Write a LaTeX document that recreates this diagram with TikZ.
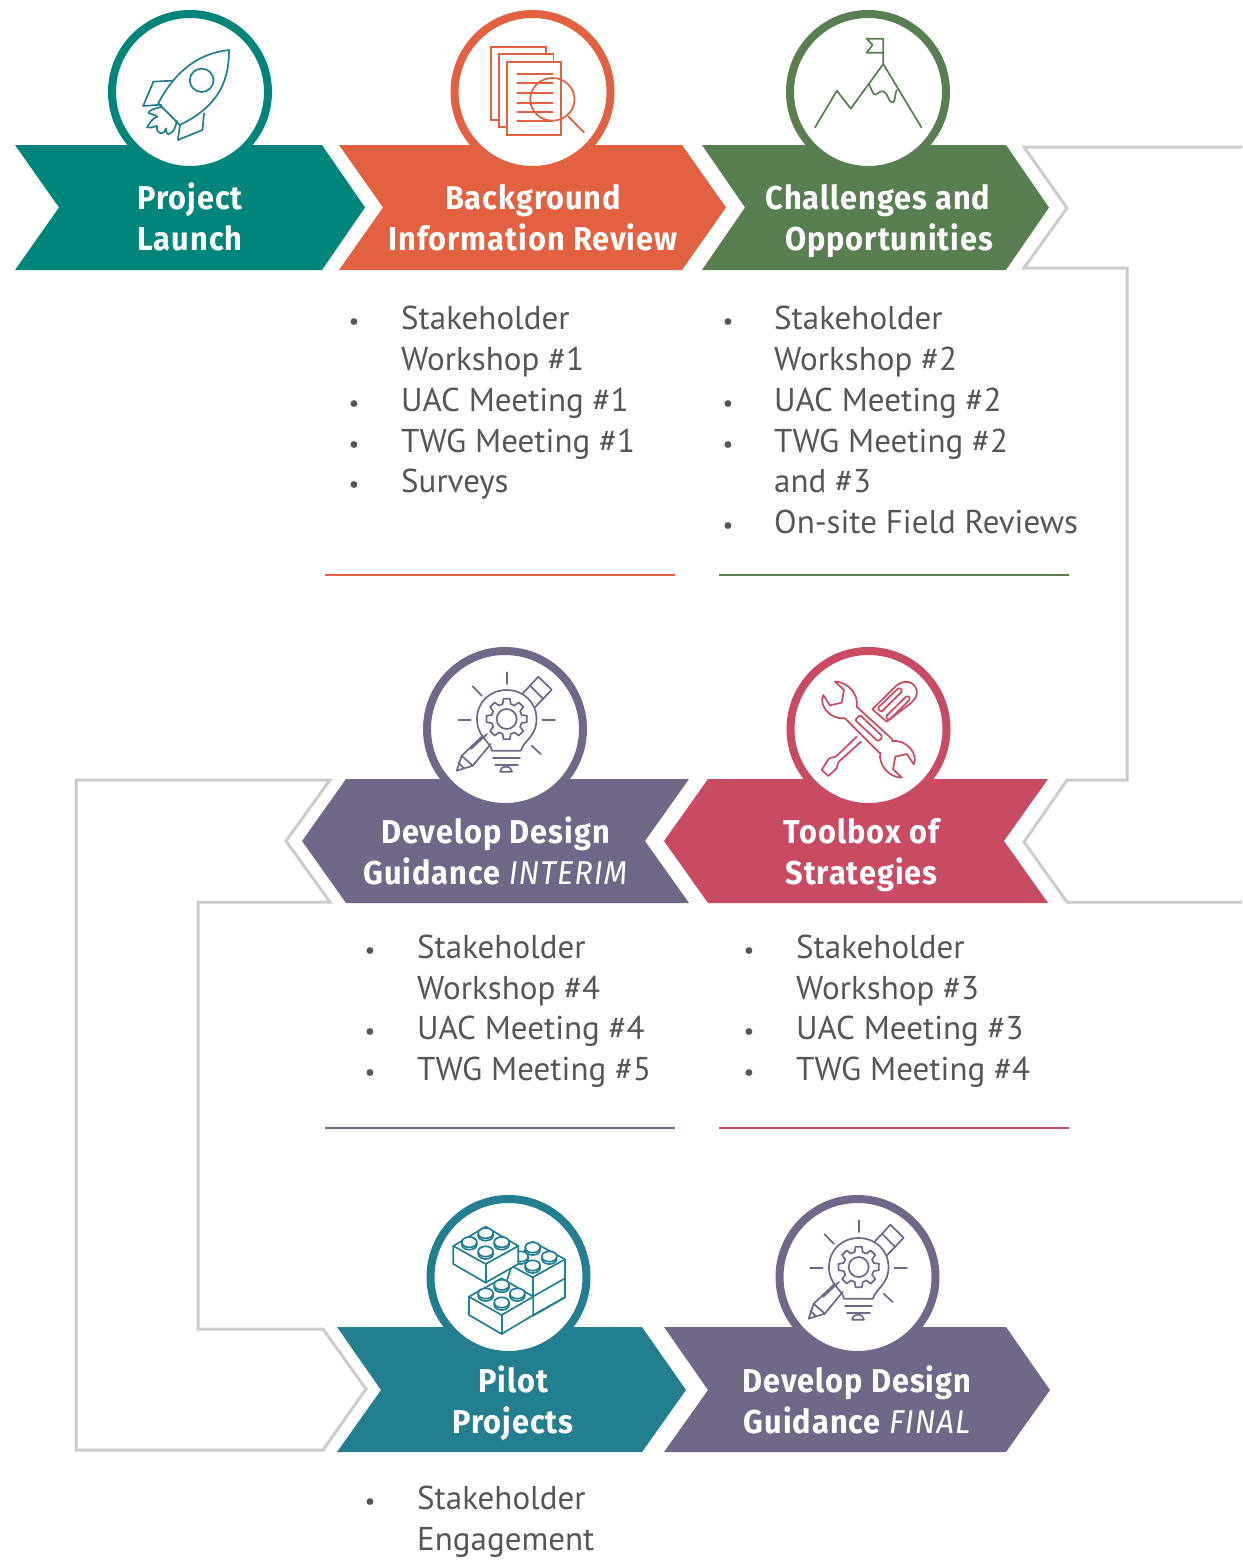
\documentclass[tikz,border=0pt]{standalone}
\usepackage{fontspec}
\setmainfont{PT Sans}
\newfontfamily\hdfont[FakeStretch=0.93,LetterSpace=3]{Fira Sans}
\definecolor{cteal}{HTML}{00857A}
\definecolor{corange}{HTML}{E26140}
\definecolor{cgreen}{HTML}{597E52}
\definecolor{cpurple}{HTML}{716787}
\definecolor{cpink}{HTML}{C94B63}
\definecolor{cpilot}{HTML}{237F90}
\definecolor{cbody}{HTML}{55565A}
\definecolor{cgrey}{HTML}{CCCCCC}
\tikzset{
 chev/.style={fill=#1,draw=none},
 ring/.style={draw=#1,fill=white,line width=8pt},
 hd/.style={anchor=base,text=white,inner sep=0pt,font=\hdfont\fontsize{33}{33}\selectfont\bfseries},
 bodytxt/.style={anchor=base west,text=cbody,inner sep=0pt,font=\fontsize{33}{33}\selectfont},
 bul/.style={anchor=base,text=cbody,inner sep=0pt,font=\fontsize{24}{24}\selectfont},
 greyline/.style={draw=cgrey,line width=3pt,miter limit=10},
 rulel/.style={draw=#1,line width=2.7pt},
 ico/.style={draw=#1,line width=1.7pt,line join=round,line cap=round},
}
\newcommand{\lego}[2]{%
 \draw[ico=cpilot,fill=white] (#1-22,#2+3) -- (#1-22,#2-7) arc[x radius=22,y radius=-14,start angle=180,end angle=0] -- (#1+22,#2+3) arc[x radius=22,y radius=-14,start angle=0,end angle=-180] -- cycle;
 \draw[ico=cpilot] (#1-22,#2-4) arc[x radius=22,y radius=-14,start angle=180,end angle=360];
}
\newcommand{\bulbicon}[1]{%
 \begin{scope}[shift={#1},ico=cpurple]
 \draw[ico=cpurple] (1.7,-55.7)--(1.7,-44);
 \draw[ico=cpurple] (-32.3,-41.7)--(-23.3,-32.3);
 \draw[ico=cpurple] (-46.7,-8)--(-34.3,-8);
 \draw[ico=cpurple] (37.3,-8)--(50,-8);
 \draw[ico=cpurple] (26.7,17.7)--(35.7,26);
 \draw[ico=cpurple] (-13,22.7) .. controls (-15,13) and (-28,9) .. (-28,-9) .. controls (-28,-26) and (-15,-38) .. (1.7,-38) .. controls (18,-38) and (31.5,-26) .. (31.5,-9) .. controls (31.5,9) and (18,13) .. (16,22.7) -- cycle;
 \draw[ico=cpurple] (-12,30)--(15,30);
 \draw[ico=cpurple] (-10,37)--(13,37);
 \draw[ico=cpurple] (-5,43.7)--(7,43.7) arc[x radius=6,y radius=-5,start angle=0,end angle=180]--cycle;
 \draw[ico=cpurple] (1.7,-9) ++(0:20)
  \foreach \a in {0,45,...,315}{
   -- ++(0,0) -- ($(1.7,-9)+(\a+9:20.5)$) -- ($(1.7,-9)+(\a+15:15.5)$) -- ($(1.7,-9)+(\a+30:15.5)$) -- ($(1.7,-9)+(\a+36:20.5)$)
  } -- cycle;
 \draw[ico=cpurple] (1.7,-9) circle[radius=10];
 \draw[ico=cpurple] (17.3,-34)--(33.3,-51.3)--(46.7,-38.3)--(30,-20.7);
 \draw[ico=cpurple] (25,-42.3)--(38.3,-29);
 \draw[ico=cpurple] (-22.3,7.7)--(-43.3,27.7)--(-48.3,42.7)--(-32.3,37.7)--(-14.3,16);
 \draw[ico=cpurple] (-43.3,27.7)--(-32.3,37.7);
 \draw[ico=cpurple] (-46.7,34.7)--(-41,40.3);
 \draw[ico=cpurple] (-34,21)--(-18,6);
 \end{scope}
}
\usetikzlibrary{calc}
\begin{document}
\begin{tikzpicture}[x=1pt,y=-1pt]
\useasboundingbox (0,0) rectangle (1242,1560);
\fill[white] (0,0) rectangle (1242,1560);
% grey outline paths
\draw[greyline,line join=miter] (1242,147)--(1024,147)--(1067,208)--(1024,268)--(1127,268)--(1127,780)--(1067,780)--(1024,842)--(1067,902)--(1242,902);
\draw[greyline,line join=miter] (330,780)--(76,780)--(76,1450)--(323,1450)--(366,1389)--(323,1329)--(198,1329)--(198,902)--(330,902)--(286,841)--cycle;
% chevrons
\fill[chev=cteal] (15,145)--(322,145)--(365,207.5)--(322,270)--(15,270)--(59,207.5)--cycle;
\fill[chev=corange] (339,145)--(682,145)--(726,207.5)--(682,270)--(339,270)--(383,207.5)--cycle;
\fill[chev=cgreen] (702,145)--(1006,145)--(1049,207.5)--(1006,270)--(702,270)--(745,207.5)--cycle;
\fill[chev=cpurple] (346,779)--(689,779)--(645,841)--(689,903)--(346,903)--(302,841)--cycle;
\fill[chev=cpink] (708,779)--(1048,779)--(1004,841)--(1048,903)--(708,903)--(664,841)--cycle;
\fill[chev=cpilot] (337,1327)--(642,1327)--(686,1390)--(642,1452)--(337,1452)--(381,1390)--cycle;
\fill[chev=cpurple] (664,1327)--(1006,1327)--(1050,1390)--(1006,1452)--(664,1452)--(708,1390)--cycle;
% rings
\draw[ring=cteal] (190,92) circle[radius=78];
\draw[ring=corange] (532.5,92) circle[radius=78];
\draw[ring=cgreen] (868,92) circle[radius=78];
\draw[ring=cpurple] (505,729) circle[radius=78];
\draw[ring=cpink] (868.5,729) circle[radius=78];
\draw[ring=cpilot] (508.5,1277) circle[radius=78];
\draw[ring=cpurple] (857.5,1277) circle[radius=78];
% rocket
\begin{scope}[x=0.3954pt,y=-0.3333pt]
\draw[ico=cpilot] (579,150) .. controls (510,160) and (450,200) .. (400,310) -- (455,375) .. controls (540,325) and (580,260) .. (579,150) -- cycle;
\draw[ico=cpilot] (510,241) ellipse[x radius=30,y radius=35];
\draw[ico=cpilot] (437,242)--(388,245)--(362,318)--(408,314);
\draw[ico=cpilot] (516,340)--(512,390)--(450,420)--(455,375);
\draw[ico=cpilot] (410,320) .. controls (395,325) and (380,328) .. (375,338) .. controls (385,345) and (395,345) .. (398,350) .. controls (385,355) and (378,370) .. (372,382) .. controls (385,385) and (392,378) .. (397,378) .. controls (395,390) and (400,400) .. (410,400) .. controls (418,395) and (418,388) .. (420,385) .. controls (420,395) and (422,405) .. (428,402) .. controls (440,395) and (445,380) .. (447,362);
\end{scope}
% documents
\begin{scope}[x=0.3954pt,y=-0.3333pt]
\draw[ico=corange,fill=white,line join=miter] (1242,140) rectangle (1380,360);
\draw[ico=corange,fill=white,line join=miter] (1262,162) rectangle (1400,382);
\draw[ico=corange,fill=white,line join=miter] (1282,186) rectangle (1418,405);
\foreach \yy in {222,250,280,308,335,362}{\draw[ico=corange] (1308,\yy)--(1398,\yy);}
\draw[ico=corange] (1397,298) ellipse[x radius=56,y radius=64];
\draw[ico=corange] (1437,350)--(1477,397);
\end{scope}
% mountain
\begin{scope}[shift={(620,0)},x=0.3965pt,y=-0.3333pt]
\draw[ico=cgreen] (492,382)--(547,272)--(582,326)--(664,192)--(760,382);
\draw[ico=cgreen] (664,192)--(664,116)--(622,116)--(637,135)--(622,158)--(664,158);
\draw[ico=cgreen] (628,252) .. controls (635,270) and (638,285) .. (645,284) .. controls (652,282) and (655,270) .. (665,275) .. controls (678,282) and (675,305) .. (687,308) .. controls (695,308) and (692,285) .. (698,270);
\end{scope}
% bulbs
\bulbicon{(505,728)}
\bulbicon{(857,1276)}
% tools
\begin{scope}[shift={(660,640)},x=0.3333pt,y=-0.3333pt]
\foreach \r in {0,180}{
\begin{scope}[rotate around={\r:(625.5,269)}]
\draw[ico=cpink] (590,200) .. controls (597,165) and (565,125) .. (525,125) -- (552,150) -- (545,188) -- (510,196) -- (490,165) .. controls (475,195) and (510,240) .. (555,235);
\end{scope}}
\draw[ico=cpink] (590,200)--(697,298);
\draw[ico=cpink] (555,235)--(660,340);
\draw[ico=cpink,rounded corners=1.5pt] (600,225)--(668,290)--(655,305)--(585,240)--cycle;
\draw[ico=cpink] (637,208)--(708,138) .. controls (730,118) and (762,122) .. (770,150) .. controls (774,170) and (762,180) .. (752,190) -- (680,245) -- cycle;
\draw[ico=cpink,rounded corners=1.5pt] (652,205)--(718,142)--(728,152)--(664,216)--cycle;
\draw[ico=cpink,rounded corners=1.5pt] (676,231)--(742,166)--(752,176)--(687,241)--cycle;
\draw[ico=cpink] (590,290)--(530,348) .. controls (520,355) and (510,350) .. (505,358) -- (485,390)--(505,408)--(530,385) .. controls (535,375) and (530,370) .. (540,362)--(603,305);
\end{scope}
% lego
\begin{scope}[shift={(320,1190)},x=0.3333pt,y=-0.3333pt,line width=1.6pt]
\draw[ico=cpilot,fill=white] (575,228)--(638,155)--(735,208)--(735,265)--(735,322)--(638,378)--(545,320)--cycle;
\draw[ico=cpilot] (735,208)--(638,262)--(575,228);
\draw[ico=cpilot] (638,262)--(638,320);
\draw[ico=cpilot] (735,265)--(638,320);
\lego{638}{178}\lego{688}{205}\lego{638}{232}\lego{602}{205}
\draw[ico=cpilot,fill=white] (400,168)--(497,110)--(595,168)--(595,222)--(497,278)--(400,222)--cycle;
\draw[ico=cpilot] (400,168)--(497,222)--(595,168);
\draw[ico=cpilot] (497,222)--(497,278);
\lego{497}{135}\lego{448}{162}\lego{545}{162}\lego{497}{190}
\draw[ico=cpilot,fill=white] (447,320)--(545,265)--(640,320)--(640,375)--(545,432)--(447,375)--cycle;
\draw[ico=cpilot] (447,320)--(545,375)--(640,320);
\draw[ico=cpilot] (545,375)--(545,432);
\draw[ico=cpilot] (640,375)--(735,322);
\lego{545}{290}\lego{497}{316}\lego{592}{316}\lego{545}{343}
\end{scope}
% headings
\node[hd] (h1a) at (190,209) {Project};
\node[hd] (h1b) at (190,250) {Launch};
\node[hd] (h2a) at (533,209) {Background};
\node[hd] (h2b) at (533,250) {Information Review};
\node[hd] (h3a) at (878,209) {Challenges and};
\node[hd] (h3b) at (889,250) {Opportunities};
\node[hd] (h4a) at (495.5,843) {Develop Design};
\node[hd] (h4b) at (495.5,884) {Guidance {\mdseries\itshape INTERIM}};
\node[hd] (h5a) at (861.5,843) {Toolbox of};
\node[hd] (h5b) at (861.5,884) {Strategies};
\node[hd] (h6a) at (513,1392) {Pilot};
\node[hd] (h6b) at (513,1433) {Projects};
\node[hd] (h7a) at (857,1392) {Develop Design};
\node[hd] (h7b) at (857,1433) {Guidance {\mdseries\itshape FINAL}};
% lists
\node[bul] (b1) at (354,329) {•}; \node[bodytxt] (t1) at (401,329) {Stakeholder};
\node[bodytxt] (t1b) at (401,370) {Workshop \#1};
\node[bul] (b2) at (354,411) {•}; \node[bodytxt] (t2) at (401,411) {UAC Meeting \#1};
\node[bul] (b3) at (354,452) {•}; \node[bodytxt] (t3) at (401,452) {TWG Meeting \#1};
\node[bul] (b4) at (354,492) {•}; \node[bodytxt] (t4) at (401,492) {Surveys};
\node[bul] (b5) at (728,329) {•}; \node[bodytxt] (t5) at (774,329) {Stakeholder};
\node[bodytxt] (t5b) at (774,370) {Workshop \#2};
\node[bul] (b6) at (728,411) {•}; \node[bodytxt] (t6) at (774,411) {UAC Meeting \#2};
\node[bul] (b7) at (728,452) {•}; \node[bodytxt] (t7) at (774,452) {TWG Meeting \#2};
\node[bodytxt] (t7b) at (774,492) {and \#3};
\node[bul] (b8) at (728,533) {•}; \node[bodytxt] (t8) at (774,533) {On-site Field Reviews};
\node[bul] (b9) at (370,958) {•}; \node[bodytxt] (t9) at (417,958) {Stakeholder};
\node[bodytxt] (t9b) at (417,999) {Workshop \#4};
\node[bul] (b10) at (370,1039) {•}; \node[bodytxt] (t10) at (417,1039) {UAC Meeting \#4};
\node[bul] (b11) at (370,1080) {•}; \node[bodytxt] (t11) at (417,1080) {TWG Meeting \#5};
\node[bul] (b12) at (749,958) {•}; \node[bodytxt] (t12) at (796,958) {Stakeholder};
\node[bodytxt] (t12b) at (796,999) {Workshop \#3};
\node[bul] (b13) at (749,1039) {•}; \node[bodytxt] (t13) at (796,1039) {UAC Meeting \#3};
\node[bul] (b14) at (749,1080) {•}; \node[bodytxt] (t14) at (796,1080) {TWG Meeting \#4};
\node[bul] (b15) at (370,1509) {•}; \node[bodytxt] (t15) at (417,1509) {Stakeholder};
\node[bodytxt] (t15b) at (417,1550) {Engagement};
% rules
\draw[rulel=corange] (325,575)--(675,575);
\draw[rulel=cgreen] (719,575)--(1069,575);
\draw[rulel=cpurple] (325,1128)--(675,1128);
\draw[rulel=cpink] (719,1128)--(1069,1128);
\end{tikzpicture}
\end{document}
